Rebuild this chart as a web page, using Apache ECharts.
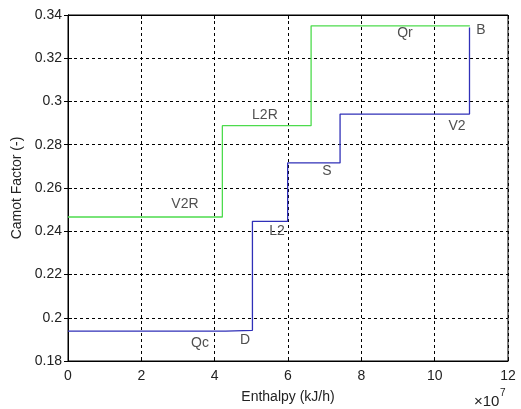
<!DOCTYPE html>
<html><head><meta charset="utf-8">
<script src="https://cdn.jsdelivr.net/npm/echarts@6/dist/echarts.min.js"></script>
<style>html,body{margin:0;padding:0;background:#fff}#c{width:521px;height:409px}</style>
</head><body><div id="c"></div>
<script>
// Enthalpy in units of 1e7 kJ/h
var xTicks = [0, 2, 4, 6, 8, 10, 12];
var yTicks = [0.18, 0.2, 0.22, 0.24, 0.26, 0.28, 0.3, 0.32, 0.34];
var greenX = [0, 4.21, 6.63, 10.96];
var greenY = [0.2466, 0.2888, 0.3350, 0.3350];
var blueX = [0, 4.30, 5.03, 5.99, 7.42, 10.95];
var blueY = [0.1938, 0.1942, 0.2446, 0.2716, 0.2942, 0.3342];
var labelText = ['Qr', 'B', 'L2R', 'V2', 'S', 'V2R', 'L2', 'Qc', 'D'];
var labelX = [9.19, 11.26, 5.37, 10.61, 7.06, 3.19, 5.70, 3.60, 4.83];
var labelY = [0.3317, 0.3331, 0.2939, 0.2888, 0.2676, 0.2524, 0.2400, 0.1883, 0.1898];

function zip(a, b) { return a.map(function (v, i) { return [v, b[i]]; }); }

var font = 'Liberation Sans, Arial, sans-serif';
var chart = echarts.init(document.getElementById('c'));
chart.setOption({
  animation: false,
  grid: { left: 68, right: 13, top: 15, bottom: 47, show: true, borderColor: '#000', borderWidth: 1, backgroundColor: 'transparent' },
  xAxis: [{
    type: 'value', min: 0, max: 12, interval: 2,
    axisLine: { show: true, onZero: false, lineStyle: { color: '#000' } },
    axisTick: { show: true, inside: true, length: 4, lineStyle: { color: '#000' } },
    axisLabel: { color: '#222', fontFamily: font, fontSize: 14, margin: 8 },
    splitLine: { show: true, lineStyle: { color: '#000', type: [3, 3], width: 1 } },
    name: 'Enthalpy (kJ/h)', nameLocation: 'middle', nameGap: 29,
    nameTextStyle: { color: '#222', fontFamily: font, fontSize: 14 }
  }, {
    type: 'value', position: 'top', min: 0, max: 12, interval: 2,
    axisLine: { show: true, lineStyle: { color: '#000' } },
    axisTick: { show: true, inside: true, length: 4, lineStyle: { color: '#000' } },
    axisLabel: { show: false }, splitLine: { show: false }
  }],
  yAxis: [{
    type: 'value', min: 0.18, max: 0.34, interval: 0.02,
    axisLine: { show: true, onZero: false, lineStyle: { color: '#000' } },
    axisTick: { show: true, inside: true, length: 4, lineStyle: { color: '#000' } },
    axisLabel: { color: '#222', fontFamily: font, fontSize: 14, margin: 6,
      formatter: function (v) { return String(+v.toFixed(2)); } },
    splitLine: { show: true, lineStyle: { color: '#000', type: [3, 3], width: 1 } },
    name: 'Camot Factor (-)', nameLocation: 'middle', nameGap: 40,
    nameTextStyle: { color: '#222', fontFamily: font, fontSize: 14 }
  }, {
    type: 'value', position: 'right', min: 0.18, max: 0.34, interval: 0.02,
    axisLine: { show: true, lineStyle: { color: '#000' } },
    axisTick: { show: true, inside: true, length: 4, lineStyle: { color: '#000' } },
    axisLabel: { show: false }, splitLine: { show: false }
  }],
  graphic: [{
    type: 'text', left: 474, top: 394,
    style: { text: '×10', font: '15px ' + font, fill: '#222' }
  }, {
    type: 'text', left: 500, top: 388,
    style: { text: '7', font: '10px ' + font, fill: '#222' }
  }],
  series: [{
    type: 'line', step: 'end', data: zip(greenX, greenY), showSymbol: false,
    lineStyle: { color: '#4ddb4d', width: 1.3 }, z: 3
  }, {
    type: 'line', step: 'end', data: zip(blueX, blueY), showSymbol: false,
    lineStyle: { color: '#3030b8', width: 1.3 }, z: 3
  }, {
    type: 'scatter', symbolSize: 0, silent: true,
    data: labelText.map(function (t, i) { return { value: [labelX[i], labelY[i]], name: t }; }),
    label: { show: true, position: 'inside', formatter: '{b}', color: '#222', fontFamily: font, fontSize: 14 }
  }]
});
</script></body></html>
